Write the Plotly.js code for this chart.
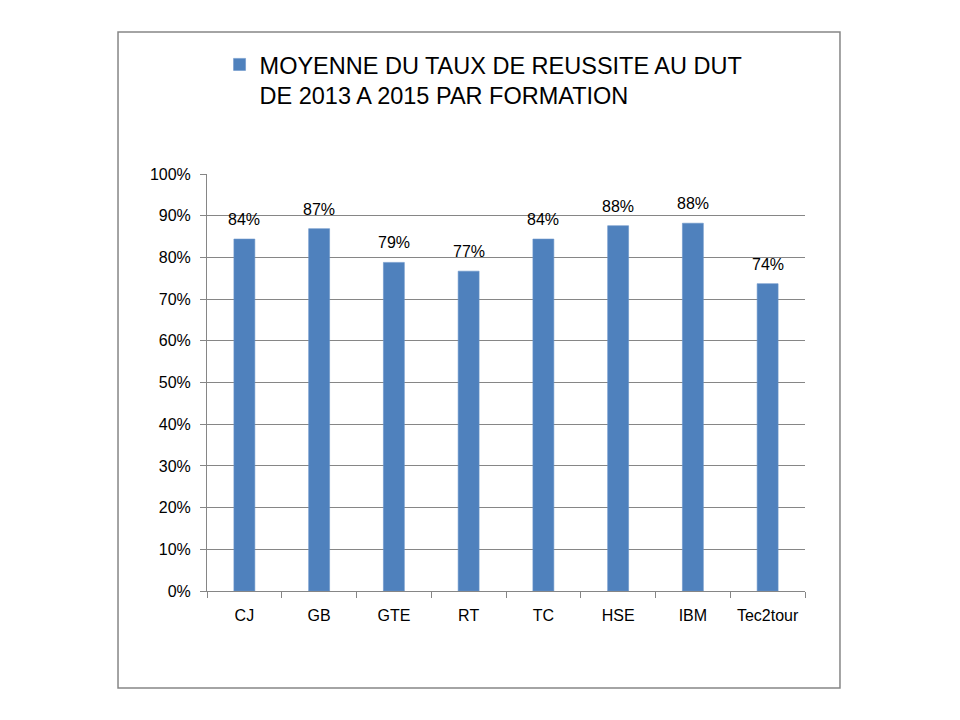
<!DOCTYPE html>
<html>
<head>
<meta charset="utf-8">
<script src="https://cdn.plot.ly/plotly-3.0.1.min.js"></script>
<style>
  body { margin: 0; background: #fff; }
  #chart { width: 960px; height: 720px; }
</style>
</head>
<body>
<div id="chart"></div>
<script>
var formations = ['CJ', 'GB', 'GTE', 'RT', 'TC', 'HSE', 'IBM', 'Tec2tour'];
var tauxReussite = [0.844, 0.869, 0.788, 0.767, 0.844, 0.876, 0.882, 0.737];
var serieNom = 'MOYENNE DU TAUX DE REUSSITE AU DUT<br>DE 2013 A 2015 PAR FORMATION';

function makeChart(divId){

    var trace = {
        x: formations,
        y: tauxReussite,
        type: 'bar',
        name: serieNom,
        width: 0.28,
        marker: {color: '#4F81BD', line: {color: '#6A93C9', width: 0.6}},
        showlegend: true
    };

    // value labels above each bar, a bit higher than plotly's outside text
    var labels = formations.map(function(f, i){
        return {
            x: f, y: tauxReussite[i], xref: 'x', yref: 'y',
            text: Math.round(tauxReussite[i] * 100) + '%',
            showarrow: false, yanchor: 'bottom', yshift: 9,
            font: {family: 'Liberation Sans', size: 16, color: '#000'}
        };
    });

    var layout = {
        width: 960,
        height: 720,
        margin: {l: 207, r: 155, t: 174, b: 129},
        paper_bgcolor: '#fff',
        plot_bgcolor: '#fff',
        font: {family: 'Liberation Sans', size: 15, color: '#000'},
        showlegend: true,
        legend: {
            x: 0.021, y: 1.315, xanchor: 'left', yanchor: 'top',
            font: {family: 'Liberation Sans', size: 23.5, color: '#000'},
            bgcolor: 'rgba(0,0,0,0)',
            valign: 'top',
            itemwidth: 30
        },
        xaxis: {
            showline: true, linecolor: '#868686', linewidth: 1,
            ticks: 'outside', tickson: 'boundaries', ticklen: 6, tickcolor: '#868686',
            ticklabelstandoff: 10,
            tickfont: {size: 16}, showgrid: false, fixedrange: true
        },
        yaxis: {
            range: [0, 1], dtick: 0.1, tickformat: '.0%',
            showline: true, linecolor: '#868686', linewidth: 1,
            ticks: 'outside', ticklen: 6, tickcolor: '#868686',
            ticklabelstandoff: 6,
            showgrid: true, gridcolor: '#868686', gridwidth: 1,
            zeroline: false, tickfont: {size: 16}, fixedrange: true
        },
        annotations: labels,
        shapes: [{
            type: 'rect', xref: 'paper', yref: 'paper',
            x0: -0.1488, x1: 1.0585, y0: -0.2326, y1: 1.3405,
            line: {color: '#868686', width: 1.5}
        }]
    };

    Plotly.newPlot(divId, [trace], layout, {displayModeBar: false});
}

makeChart('chart');
</script>
</body>
</html>
